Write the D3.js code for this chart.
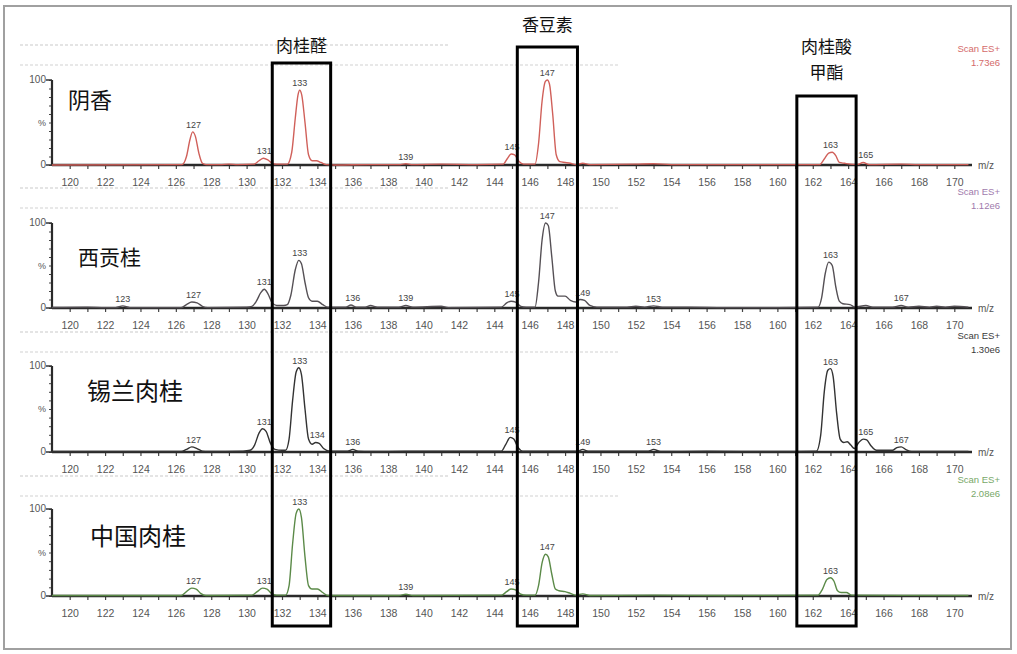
<!DOCTYPE html>
<html><head><meta charset="utf-8">
<script src="https://cdn.jsdelivr.net/npm/d3@7"></script>
<style>html,body{margin:0;padding:0;background:#fff;}svg{display:block;}</style>
</head><body>
<script>
// ---------- data ----------
const sampleNames = ["阴香", "西贡桂", "锡兰肉桂", "中国肉桂"];
const scanTitles = ["Scan ES+", "Scan ES+", "Scan ES+", "Scan ES+"];
const scanTics = ["1.73e6", "1.12e6", "1.30e6", "2.08e6"];
const compoundNames = [["肉桂醛"], ["香豆素"], ["肉桂酸", "甲酯"]];
const compoundMz = [[131.45, 134.75], [145.3, 148.7], [161.1, 164.45]];

// profile spectra: [m/z, relative intensity %]
const spectrumYinxiang = [[119,0],[126.35,0.5],[126.6,10],[126.8,30],[126.95,39],[127.1,34],[127.3,14],[127.5,2],[127.7,0.5],[128.5,0.5],[129,1],[129.5,0.5],[130.4,1],[130.7,5],[130.95,8],[131.2,6],[131.45,2],[131.7,1],[132.3,1],[132.55,15],[132.75,55],[132.9,82],[133,88],[133.12,82],[133.3,50],[133.5,12],[133.7,5],[133.95,5],[134.2,3],[134.5,0.5],[135,0],[137,0.5],[138.7,0.5],[139,1.5],[139.3,0.5],[141,1],[143,0.5],[144.5,1],[144.75,8],[144.95,13],[145.15,12],[145.4,4],[145.65,1],[146.3,1],[146.5,25],[146.7,75],[146.88,98],[147,100],[147.12,95],[147.3,60],[147.5,12],[147.7,4],[148,3],[148.3,2],[148.6,0.5],[149,2],[149.4,0.5],[152,1],[153,1.5],[154,0.5],[160,0.5],[162.4,0.5],[162.65,7],[162.9,14],[163.1,15],[163.3,11],[163.5,3],[163.8,2],[164.1,1],[164.5,0.5],[164.85,3],[165.2,0.5],[167,1],[168,0.5],[170.8,0.5]];
const spectrumXigong = [[119,0.5],[121,1],[122,0.5],[122.6,0.5],[123,2.5],[123.4,0.5],[126.3,0.5],[126.6,4],[126.9,7],[127.2,6],[127.5,2],[127.8,0.5],[130,1],[130.3,2],[130.55,8],[130.8,18],[131,22],[131.2,17],[131.45,6],[131.7,3],[132.1,3],[132.3,4],[132.5,15],[132.75,45],[132.95,56],[133.1,52],[133.3,30],[133.5,12],[133.7,8],[134,8],[134.3,4],[134.6,1],[135.6,1],[135.9,3.5],[136.2,1],[136.7,1],[137,3],[137.4,1],[138.6,1],[139,3],[139.4,1],[141,2],[141.4,0.5],[144.4,1],[144.7,6],[144.95,8],[145.2,7],[145.5,2],[145.8,1],[146.3,1],[146.5,30],[146.7,80],[146.9,100],[147.05,97],[147.25,60],[147.45,20],[147.6,14],[148,14],[148.3,9],[148.6,7],[148.85,10],[149.1,9],[149.4,3],[149.8,1],[151.5,1],[152,2],[152.5,1],[153,2.5],[153.5,1],[155,1],[157,0.5],[160,0.5],[162.3,1],[162.5,12],[162.7,40],[162.9,54],[163.1,50],[163.3,25],[163.5,8],[163.7,5],[164.1,4],[164.4,1],[165,3],[165.4,1],[166.5,1],[167,3],[167.4,1],[168,2],[168.6,1],[169,2],[169.5,1],[170,2],[170.8,1]];
const spectrumXilan = [[119,0.5],[126.3,0.5],[126.6,3],[126.9,6],[127.2,4],[127.5,1],[127.8,0.5],[129.8,1],[130.2,2],[130.45,8],[130.7,22],[130.9,27],[131.1,24],[131.35,10],[131.6,3],[132,2],[132.2,2],[132.4,15],[132.6,60],[132.8,93],[132.95,98],[133.1,90],[133.3,50],[133.5,15],[133.7,9],[133.9,11],[134.1,10],[134.35,4],[134.7,1],[135.7,1],[136,3],[136.3,1],[137,0.5],[139,1],[141,1],[144.4,1],[144.65,9],[144.9,17],[145.1,15],[145.35,5],[145.6,1],[147,1],[148,1],[148.7,1],[149,3],[149.3,1],[150,1],[151,1],[152,1],[152.7,1],[153,3],[153.4,0.5],[156,1],[160,0.5],[162.2,1],[162.45,20],[162.65,70],[162.85,95],[163,97],[163.15,88],[163.35,45],[163.55,15],[163.75,11],[163.95,12],[164.15,8],[164.35,4],[164.6,11],[164.85,15],[165.05,14],[165.3,7],[165.6,2],[166,2],[166.5,2],[166.75,5],[167,6],[167.25,3],[167.6,0.5],[170.8,0.5]];
const spectrumZhongguo = [[119,0.5],[126.3,0.5],[126.6,5],[126.9,9],[127.15,8],[127.4,3],[127.7,0.5],[130.3,1],[130.6,5],[130.9,9],[131.15,8],[131.4,3],[131.7,1],[132.2,1],[132.4,12],[132.6,60],[132.8,95],[132.95,100],[133.1,90],[133.3,45],[133.5,12],[133.7,8],[134,8],[134.3,4],[134.6,0.5],[138.6,0.5],[139,2],[139.4,0.5],[144.4,1],[144.7,5],[144.95,8],[145.2,7],[145.5,2],[145.8,1],[146.3,1],[146.5,12],[146.7,38],[146.9,48],[147.05,45],[147.25,25],[147.45,8],[147.65,6],[148,5],[148.3,3],[148.6,1],[149,2.5],[149.4,0.5],[153,1],[157,0.5],[162.3,1],[162.55,8],[162.8,19],[163,21],[163.2,17],[163.4,6],[163.6,4],[163.9,4],[164.2,1],[170.8,0.5]];

// labelled peaks: [m/z, intensity %]
const peaksYinxiang = [[127,39],[131,8],[133,88],[139,1.5],[145,13],[147,100],[163,15],[165,3]];
const peaksXigong = [[123,2.5],[127,7],[131,22],[133,56],[136,3.5],[139,3],[145,8],[147,100],[149,10],[153,2.5],[163,54],[167,3]];
const peaksXilan = [[127,6],[131,27],[133,98],[134,12],[136,3],[145,17],[149,3],[153,3],[163,97],[165,15],[167,6]];
const peaksZhongguo = [[127,9],[131,9],[133,100],[139,2],[145,8],[147,48],[163,21]];

const spectra = [spectrumYinxiang, spectrumXigong, spectrumXilan, spectrumZhongguo];
const peakLists = [peaksYinxiang, peaksXigong, peaksXilan, peaksZhongguo];

// ---------- layout / style ----------
const W = 1017, H = 654;
const lineColors = ["#d0605a", "#555055", "#333333", "#5b8a48"];
const scanColors = ["#d46a6a", "#a07aac", "#3a3a3a", "#78a868"];
const panelTop = [80, 223, 366, 509];
const panelBase = [165, 308, 452, 596];
const nameFont = [22, 21, 24, 24];
const nameX = [68, 78, 87, 90];
const nameY = [108, 265, 400, 545];

const svg = d3.select("body").append("svg").attr("width", W).attr("height", H)
  .style("font-family", "'Liberation Sans', Arial, sans-serif");

svg.append("rect").attr("x", 4).attr("y", 6).attr("width", 1007).attr("height", 643)
  .attr("fill", "#fff").attr("stroke", "#a0a0a0").attr("stroke-width", 2);

const x = d3.scaleLinear().domain([119, 171]).range([52, 972]);

spectra.forEach((data, i) => {
  const y = d3.scaleLinear().domain([0, 100]).range([panelBase[i], panelTop[i]]);
  const g = svg.append("g");

  // faint header residue lines
  g.append("line").attr("x1", 20).attr("x2", 450).attr("y1", panelBase[i] - 120).attr("y2", panelBase[i] - 120)
    .attr("stroke", "#e4e4e4").attr("stroke-width", 2).attr("stroke-dasharray", "3,2");
  g.append("line").attr("x1", 20).attr("x2", 620).attr("y1", panelBase[i] - 100).attr("y2", panelBase[i] - 100)
    .attr("stroke", "#e8e8e8").attr("stroke-width", 2).attr("stroke-dasharray", "3,2");

  // x axis
  const xAxis = d3.axisBottom(x).tickValues(d3.range(120, 171, 1)).tickSize(4)
    .tickFormat(d => (d % 2 === 0 ? d : ""));
  const ax = g.append("g").attr("transform", `translate(0,${panelBase[i]})`).call(xAxis);
  ax.select(".domain").remove();
  ax.selectAll(".tick line").attr("stroke", "#444").attr("stroke-width", 1.2);
  ax.selectAll(".tick text").attr("font-size", 10.5).attr("fill", "#555").attr("dy", "1.3em")
    .attr("font-family", "'Liberation Sans', Arial, sans-serif");
  g.append("line").attr("x1", 52).attr("x2", x(171)).attr("y1", panelBase[i]).attr("y2", panelBase[i])
    .attr("stroke", "#2a2a2a").attr("stroke-width", 2.5);
  g.append("text").attr("x", 978).attr("y", panelBase[i] + 4).attr("font-size", 10).attr("fill", "#555").text("m/z");

  // y axis
  const yAxis = d3.axisLeft(y).tickValues(d3.range(0, 101, 10)).tickSize(3).tickFormat("");
  const ay = g.append("g").attr("transform", "translate(52,0)").call(yAxis);
  ay.select(".domain").remove();
  ay.selectAll(".tick line").attr("stroke", "#444");
  g.append("line").attr("x1", 52).attr("x2", 52).attr("y1", y(100)).attr("y2", y(0))
    .attr("stroke", "#2a2a2a").attr("stroke-width", 2.2);
  g.append("line").attr("x1", 46).attr("x2", 52).attr("y1", y(100)).attr("y2", y(100)).attr("stroke", "#333").attr("stroke-width", 1.5);
  g.append("line").attr("x1", 46).attr("x2", 52).attr("y1", y(0)).attr("y2", y(0)).attr("stroke", "#333").attr("stroke-width", 1.5);
  g.append("text").attr("x", 46).attr("y", y(100) + 3).attr("text-anchor", "end").attr("font-size", 10).attr("fill", "#555").text("100");
  g.append("text").attr("x", 46).attr("y", y(0) + 3).attr("text-anchor", "end").attr("font-size", 10).attr("fill", "#555").text("0");
  g.append("text").attr("x", 46).attr("y", y(50) + 3).attr("text-anchor", "end").attr("font-size", 9).attr("fill", "#555").text("%");

  // spectrum line
  const line = d3.line().x(d => x(d[0])).y(d => y(d[1])).curve(d3.curveMonotoneX);
  g.append("path").datum(data).attr("d", line).attr("fill", "none")
    .attr("stroke", lineColors[i]).attr("stroke-width", 1.4);

  // peak labels
  g.selectAll("text.pk").data(peakLists[i]).join("text").attr("class", "pk")
    .attr("x", d => x(d[0])).attr("y", d => y(d[1]) - 4)
    .attr("text-anchor", "middle").attr("font-size", 9).attr("fill", "#444").text(d => d[0]);

  // scan info
  g.append("text").attr("x", 1000).attr("y", panelBase[i] - 113).attr("text-anchor", "end")
    .attr("font-size", 9.5).attr("fill", scanColors[i]).text(scanTitles[i]);
  g.append("text").attr("x", 1000).attr("y", panelBase[i] - 99).attr("text-anchor", "end")
    .attr("font-size", 9.5).attr("fill", scanColors[i]).text(scanTics[i]);

  // sample name
  g.append("text").attr("x", nameX[i]).attr("y", nameY[i])
    .attr("font-family", "'Noto Sans CJK SC', sans-serif").attr("font-size", nameFont[i])
    .attr("fill", "#111").text(sampleNames[i]);
});

// compound boxes and titles
const boxTop = [63, 47, 96];
const boxBottom = 626;
const titleY = [[52], [31], [53, 79]];
compoundMz.forEach((r, k) => {
  svg.append("rect").attr("x", x(r[0])).attr("y", boxTop[k])
    .attr("width", x(r[1]) - x(r[0])).attr("height", boxBottom - boxTop[k])
    .attr("fill", "none").attr("stroke", "#000").attr("stroke-width", 3);
  const cx = (x(r[0]) + x(r[1])) / 2;
  compoundNames[k].forEach((t, j) => {
    svg.append("text").attr("x", cx).attr("y", titleY[k][j])
      .attr("text-anchor", "middle").attr("font-family", "'Noto Sans CJK SC', sans-serif")
      .attr("font-size", 17).attr("fill", "#111").text(t);
  });
});
</script>
</body></html>
